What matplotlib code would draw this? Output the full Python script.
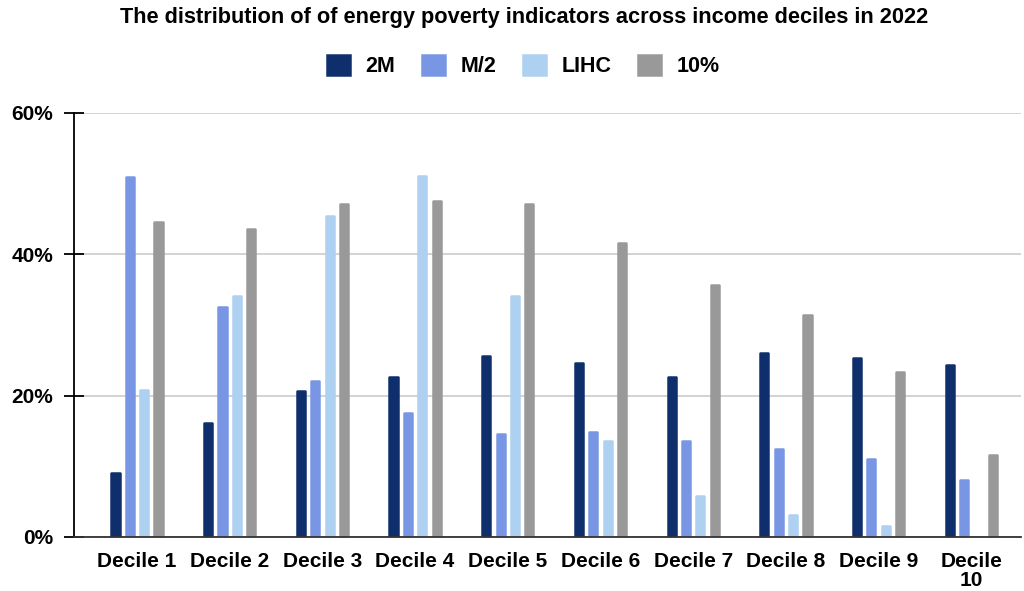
import matplotlib
matplotlib.use("Agg")
import matplotlib.pyplot as plt
import numpy as np

plt.rcParams['font.family'] = ['Liberation Sans', 'DejaVu Sans']
plt.rcParams['font.weight'] = 'bold'

categories = ["Decile 1", "Decile 2", "Decile 3", "Decile 4", "Decile 5",
              "Decile 6", "Decile 7", "Decile 8", "Decile 9", "Decile\n10"]
series_names = ["2M", "M/2", "LIHC", "10%"]
v_2m = [9.0, 16.1, 20.6, 22.6, 25.6, 24.6, 22.6, 26.1, 25.3, 24.3]
v_m2 = [50.9, 32.6, 22.1, 17.6, 14.6, 14.8, 13.6, 12.4, 11.1, 8.1]
v_lihc = [20.8, 34.1, 45.4, 51.1, 34.1, 13.6, 5.8, 3.1, 1.6, 0.0]
v_10 = [44.6, 43.6, 47.1, 47.6, 47.1, 41.6, 35.6, 31.4, 23.3, 11.6]
colors = ["#0e2f6c", "#7896e3", "#aed0f1", "#999999"]
yticks = [0, 20, 40, 60]
ytick_labels = ["0%", "20%", "40%", "60%"]

fig = plt.figure(figsize=(10.24, 5.91), dpi=100)
ax = fig.add_axes([74/1024, 54/591, (1021-74)/1024, (537-113)/591])

x = np.arange(len(categories))
pitch = 0.155
lw_px = 2.5
lw_pt = lw_px * 72 / 100
width = 0.115 - lw_px / 92.7
for i, (vals, c, name) in enumerate(zip([v_2m, v_m2, v_lihc, v_10], colors, series_names)):
    lws = [lw_pt if v > 0 else 0 for v in vals]
    bars = ax.bar(x + (i - 1.5) * pitch, vals, width=width, color=c,
                  edgecolor=c, linewidth=lws, label=name, zorder=3)
    for b in bars:
        b.set_joinstyle('round')

ax.set_xlim((74 - 137) / 92.7, (1021 - 137) / 92.7)
ax.set_ylim(0, 60)
ax.set_yticks(yticks)
ax.set_yticklabels(ytick_labels)
ax.set_xticks(x)
ax.set_xticklabels(categories)

ax.yaxis.grid(True, color="#cccccc", linewidth=1.2, zorder=0)
ax.set_axisbelow(True)
for s in ["top", "right"]:
    ax.spines[s].set_visible(False)
ax.spines["left"].set_color("black")
ax.spines["left"].set_linewidth(1.3)
ax.spines["bottom"].set_color("#333333")
ax.spines["bottom"].set_linewidth(1.3)
ax.spines["left"].set_zorder(4)
ax.spines["bottom"].set_zorder(4)

ax.tick_params(axis='y', direction='inout', length=15, width=1.3, color='black',
               labelsize=15, pad=7.5)
ax.tick_params(axis='x', length=0, labelsize=15, pad=11)
for lbl in ax.get_xticklabels() + ax.get_yticklabels():
    lbl.set_fontweight('bold')
for lbl in ax.get_xticklabels():
    lbl.set_linespacing(0.95)

fig.text(524/1024, 1 - 18/591, "The distribution of of energy poverty indicators across income deciles in 2022",
         ha='center', va='center', fontsize=15.7, fontweight='bold')

leg = fig.legend(loc='center', bbox_to_anchor=(523.5/1024, 1 - 66/591), ncol=4,
                 frameon=False, handlelength=1.05, handleheight=1.05,
                 handletextpad=0.72, columnspacing=1.25, borderpad=0,
                 prop={'weight': 'bold', 'size': 15.5})

fig.savefig("out.png", dpi=100)
